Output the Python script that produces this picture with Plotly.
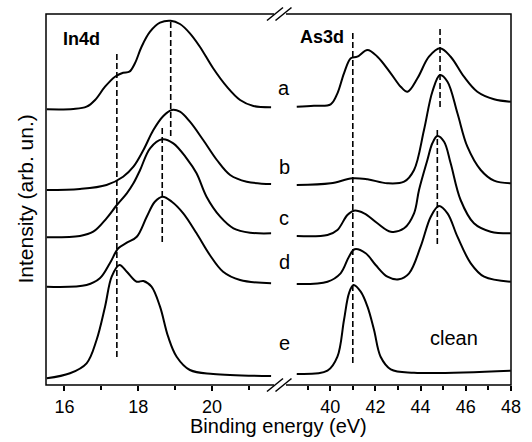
import plotly.graph_objects as go

# ---------------- data ----------------
# In4d panel: binding energy (eV) and stacked intensity (arb. units)
in_a_e = [15.52, 16.24, 16.60, 16.83, 17.10, 17.37, 17.59, 17.76, 17.91, 18.09, 18.32, 18.59, 18.88, 19.13, 19.40, 19.67, 20.03, 20.40, 20.76, 21.12, 21.60]
in_a_i = [275.7, 276, 278.3, 285, 298.3, 308.3, 312.3, 313.3, 321.7, 338.3, 353.3, 362.3, 364.3, 361, 351.7, 338.3, 316.7, 298.3, 285, 279, 277.7]

in_b_e = [15.52, 16.42, 17.14, 17.59, 17.87, 18.14, 18.41, 18.68, 18.91, 19.13, 19.40, 19.76, 20.13, 20.49, 20.94, 21.60]
in_b_i = [195, 196, 200, 208.3, 218.3, 235, 255, 269, 275, 273.3, 263.3, 245, 225, 210, 203.3, 201]

in_c_e = [15.52, 16.42, 16.78, 17.14, 17.42, 17.69, 17.87, 18.05, 18.32, 18.65, 18.95, 19.31, 19.58, 19.85, 20.22, 20.58, 21.03, 21.60]
in_c_i = [147.7, 149, 153.3, 166.7, 180, 191.7, 201.7, 215, 236.7, 245.7, 241.7, 226.7, 211.7, 188.3, 168.3, 156.7, 152.3, 151.7]

in_d_e = [15.52, 16.60, 16.96, 17.23, 17.46, 17.69, 17.96, 18.23, 18.45, 18.66, 18.91, 19.22, 19.58, 19.94, 20.30, 20.76, 21.60]
in_d_i = [98.3, 100, 106.7, 121.7, 136.7, 142.3, 148.3, 168.3, 183.3, 188.3, 183.3, 171.7, 151.7, 130, 113.3, 105, 101.7]

in_e_e = [15.52, 16.15, 16.60, 16.87, 17.10, 17.28, 17.49, 17.69, 17.96, 18.14, 18.36, 18.59, 18.81, 19.04, 19.40, 20.03, 21.60]
in_e_i = [6.7, 11.7, 21.7, 45, 78.3, 108.3, 120, 113.3, 103.3, 104, 98.3, 78.3, 48.3, 28.3, 15, 11, 9]

# As3d panel
as_a_e = [38.52, 39.28, 40.02, 40.32, 40.61, 40.91, 41.20, 41.65, 42.09, 42.68, 43.12, 43.42, 43.86, 44.37, 44.86, 45.33, 45.92, 46.51, 47.25, 47.99]
as_a_i = [278.3, 279.3, 280.7, 291.7, 311.7, 326.7, 328.3, 335, 328.3, 311.7, 298.3, 293.3, 306.7, 328.3, 336.7, 328.3, 308.3, 293.3, 285.7, 283.3]

as_b_e = [38.52, 40.02, 40.98, 41.65, 42.53, 43.27, 43.71, 44.15, 44.52, 44.86, 45.19, 45.63, 46.07, 46.66, 47.25, 47.99]
as_b_i = [200, 201.7, 206.7, 205.7, 201.7, 203.3, 215, 255, 293.3, 310, 303.3, 271.7, 238.3, 215, 204.3, 201.7]

as_c_e = [38.52, 39.88, 40.32, 40.76, 41.05, 41.50, 42.09, 42.68, 43.27, 43.71, 43.93, 44.30, 44.52, 44.74, 45.04, 45.33, 45.77, 46.36, 47.10, 47.99]
as_c_i = [149, 150, 155, 170, 174.3, 171.7, 161.7, 153.3, 156.7, 171.7, 195, 225, 241.7, 249, 243.3, 221.7, 185, 161.7, 153.3, 151.7]

as_d_e = [38.52, 39.88, 40.46, 40.83, 41.08, 41.57, 42.01, 42.53, 43.04, 43.49, 44.00, 44.45, 44.81, 45.19, 45.63, 46.22, 46.81, 47.99]
as_d_i = [101, 103.3, 111.7, 128.3, 135.7, 131.7, 120, 108.3, 105.7, 111.7, 138.3, 168.3, 179, 171.7, 148.3, 121.7, 108.3, 103.3]

as_e_e = [38.52, 39.88, 40.32, 40.61, 40.83, 41.03, 41.35, 41.65, 41.94, 42.23, 42.68, 43.71, 47.99]
as_e_i = [11, 14.3, 28.3, 65, 91.7, 100, 93.3, 78.3, 55, 28.3, 15.7, 12.3, 14.3]

# dashed reference lines: energy, lower and upper intensity
in_dash_e = [17.42, 18.88, 18.65]
in_dash_lo = [28, 249, 143]
in_dash_hi = [332, 365, 258]
as_dash_e = [41.0, 44.86, 44.74]
as_dash_lo = [22, 278, 141]
as_dash_hi = [352, 358, 257]

# curve labels
curve_labels = ["a", "b", "c", "d", "e"]
curve_label_y = [297, 218, 167, 123, 42]

in_ticks = [16, 18, 20]
in_minor = [17, 19, 21]
as_ticks = [40, 42, 44, 46, 48]
as_minor = [39, 41, 43, 45, 47]

# ---------------- figure ----------------
FONT = "Liberation Sans, Arial, sans-serif"
W, H = 532, 442
ML, MR, MT, MB = 46, 21, 14, 57
PW, PH = W - ML - MR, H - MT - MB
BREAK = (282 - ML) / PW

fig = go.Figure()
line = dict(color="black", width=2, shape="spline", smoothing=1.0)

for e, i in [(in_a_e, in_a_i), (in_b_e, in_b_i), (in_c_e, in_c_i), (in_d_e, in_d_i), (in_e_e, in_e_i)]:
    fig.add_trace(go.Scatter(x=e, y=i, mode="lines", line=line, xaxis="x", yaxis="y",
                             showlegend=False, hoverinfo="skip"))
for e, i in [(as_a_e, as_a_i), (as_b_e, as_b_i), (as_c_e, as_c_i), (as_d_e, as_d_i), (as_e_e, as_e_i)]:
    fig.add_trace(go.Scatter(x=e, y=i, mode="lines", line=line, xaxis="x2", yaxis="y2",
                             showlegend=False, hoverinfo="skip"))

dline = dict(color="black", width=1.6, dash="6px,3px")
for x, lo, hi in zip(in_dash_e, in_dash_lo, in_dash_hi):
    fig.add_trace(go.Scatter(x=[x, x], y=[lo, hi], mode="lines", line=dline, xaxis="x", yaxis="y",
                             showlegend=False, hoverinfo="skip"))
for x, lo, hi in zip(as_dash_e, as_dash_lo, as_dash_hi):
    fig.add_trace(go.Scatter(x=[x, x], y=[lo, hi], mode="lines", line=dline, xaxis="x2", yaxis="y2",
                             showlegend=False, hoverinfo="skip"))

tickfont = dict(family=FONT, size=18, color="black")
xcommon = dict(ticks="outside", ticklen=5, tickwidth=1.5, tickcolor="black",
               showgrid=False, zeroline=False, showline=False, tickfont=tickfont)

fig.update_layout(
    width=W, height=H,
    margin=dict(l=ML, r=MR, t=MT, b=MB),
    paper_bgcolor="white", plot_bgcolor="white",
    xaxis=dict(domain=[0, BREAK], range=[15.5, 15.5 + (282 - ML) / 36.9],
               tickmode="array", tickvals=in_ticks, ticktext=[str(t) for t in in_ticks],
               minor=dict(tickmode="array", tickvals=in_minor, ticks="outside", ticklen=4,
                          tickwidth=1.5, tickcolor="black"),
               anchor="y", automargin=False, **xcommon),
    xaxis2=dict(domain=[BREAK, 1], range=[48 - (W - MR - 282) / 22.6, 48],
                tickmode="array", tickvals=as_ticks, ticktext=[str(t) for t in as_ticks],
                minor=dict(tickmode="array", tickvals=as_minor, ticks="outside", ticklen=4,
                           tickwidth=1.5, tickcolor="black"),
                anchor="y2", automargin=False, **xcommon),
    yaxis=dict(domain=[0, 1], range=[0, PH], showticklabels=False, ticks="", showgrid=False,
               zeroline=False, showline=False, anchor="x", automargin=False),
    yaxis2=dict(domain=[0, 1], range=[0, PH], showticklabels=False, ticks="", showgrid=False,
                zeroline=False, showline=False, anchor="x2", automargin=False),
)

def px2paper_x(px):
    return (px - ML) / PW

def py2paper_y(py):
    return (MT + PH - py) / PH

shapes = []
# frame
shapes.append(dict(type="rect", xref="paper", yref="paper", x0=0, y0=0, x1=1, y1=1,
                   line=dict(color="black", width=1.5), layer="above"))
# break marks (bottom and top)
for pyc in [MT + PH, MT]:
    shapes.append(dict(type="rect", xref="paper", yref="paper",
                       x0=px2paper_x(274), x1=px2paper_x(286),
                       y0=py2paper_y(pyc + 2.5), y1=py2paper_y(pyc - 2.5),
                       fillcolor="white", line=dict(width=0), layer="above"))
    for x0 in [267, 275.5]:
        shapes.append(dict(type="line", xref="paper", yref="paper",
                           x0=px2paper_x(x0), y0=py2paper_y(pyc + 6.5),
                           x1=px2paper_x(x0 + 16), y1=py2paper_y(pyc - 6.5),
                           line=dict(color="black", width=1.5), layer="above"))
fig.update_layout(shapes=shapes)

ann = []
ann.append(dict(x=16.45, y=346, xref="x", yref="y", text="<b>In4d</b>", showarrow=False,
                font=dict(family=FONT, size=18, color="black")))
ann.append(dict(x=39.62, y=348, xref="x2", yref="y2", text="<b>As3d</b>", showarrow=False,
                font=dict(family=FONT, size=18, color="black")))
for lab, yv in zip(curve_labels, curve_label_y):
    ann.append(dict(x=px2paper_x(284), y=yv, xref="paper", yref="y", text=lab, showarrow=False,
                    font=dict(family=FONT, size=20, color="black")))
ann.append(dict(x=45.46, y=47, xref="x2", yref="y2", text="clean", showarrow=False,
                font=dict(family=FONT, size=20, color="black")))
ann.append(dict(x=0.5, y=py2paper_y(426), xref="paper", yref="paper", text="Binding energy (eV)",
                showarrow=False, xanchor="center", yanchor="middle",
                font=dict(family=FONT, size=20, color="black")))
ann.append(dict(x=px2paper_x(25), y=0.5, xref="paper", yref="paper", text="Intensity (arb. un.)",
                showarrow=False, textangle=-90, xanchor="center", yanchor="middle",
                font=dict(family=FONT, size=21, color="black")))
fig.update_layout(annotations=ann)

fig.write_html("out.html",
               config={"displayModeBar": False},
               post_script="document.body.style.margin='0';document.body.style.padding='0';")
